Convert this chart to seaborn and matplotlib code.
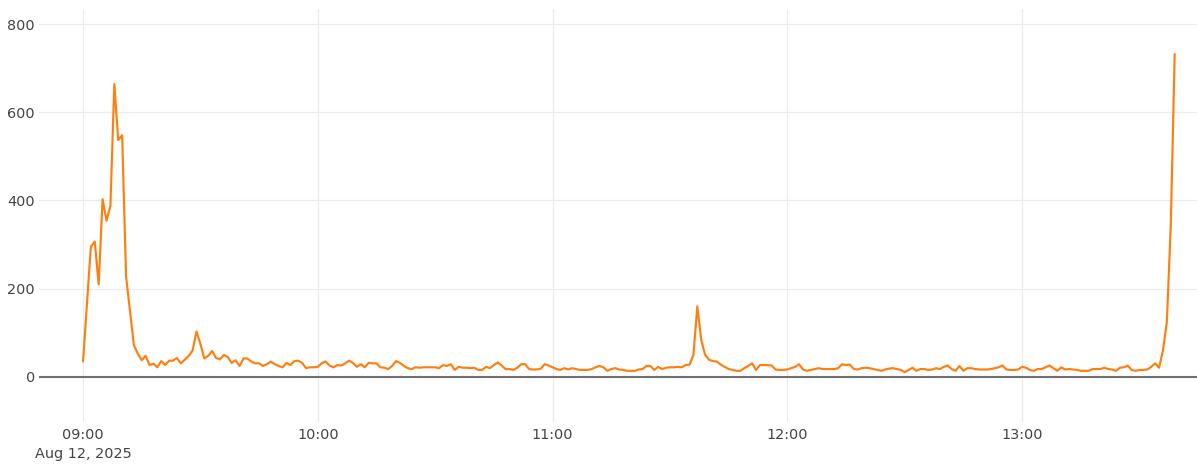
import pandas as pd
import matplotlib
matplotlib.use('Agg')
import matplotlib.pyplot as plt
import seaborn as sns

# one reading per minute, starting 09:00
start_time = '2025-08-12 09:00'
values = [
    35, 165, 295, 307, 210, 403, 354, 388, 664, 537, 548, 228, 150, 72, 53, 38, 48, 27, 30, 22,
    36, 27, 37, 37, 43, 31, 39, 48, 60, 103, 75, 42, 48, 59, 43, 40, 50, 45, 32, 38,
    25, 42, 42, 35, 31, 31, 25, 29, 35, 29, 25, 22, 32, 27, 36, 37, 32, 20, 22, 22,
    23, 31, 35, 26, 22, 27, 26, 31, 37, 32, 23, 29, 22, 32, 31, 31, 22, 21, 18, 25,
    36, 32, 25, 20, 18, 22, 21, 22, 22, 22, 22, 20, 27, 25, 29, 16, 23, 21, 21, 20,
    21, 16, 16, 23, 20, 27, 33, 26, 18, 18, 16, 21, 29, 29, 18, 17, 17, 19, 29, 26,
    22, 18, 16, 20, 17, 20, 18, 16, 16, 16, 18, 22, 25, 22, 14, 18, 20, 17, 16, 14,
    14, 14, 17, 18, 25, 25, 16, 23, 18, 21, 22, 22, 23, 22, 27, 28, 50, 160, 84, 50,
    39, 36, 35, 28, 23, 18, 16, 14, 14, 20, 25, 31, 16, 27, 27, 27, 26, 17, 16, 16,
    17, 20, 23, 29, 17, 14, 16, 18, 20, 18, 18, 18, 18, 20, 29, 27, 28, 18, 17, 20,
    21, 20, 18, 16, 14, 17, 19, 20, 18, 16, 11, 16, 21, 14, 18, 18, 16, 17, 20, 18,
    23, 26, 18, 14, 25, 14, 20, 20, 18, 17, 17, 17, 18, 20, 22, 26, 17, 16, 16, 17,
    23, 21, 16, 14, 18, 18, 22, 26, 20, 14, 22, 17, 18, 17, 16, 14, 14, 14, 18, 18,
    18, 21, 18, 17, 14, 21, 22, 26, 16, 14, 16, 16, 17, 23, 31, 21, 60, 125, 345, 732,
]
x_ticks = ['2025-08-12 09:00', '2025-08-12 10:00', '2025-08-12 11:00',
           '2025-08-12 12:00', '2025-08-12 13:00']
x_tick_labels = ['09:00\nAug 12, 2025', '10:00', '11:00', '12:00', '13:00']
y_ticks = [0, 200, 400, 600, 800]

df = pd.DataFrame({
    'time': pd.date_range(start_time, periods=len(values), freq='min'),
    'value': values,
})

sns.set_style('white')
plt.rcParams['font.family'] = ['DejaVu Sans']

fig = plt.figure(figsize=(11.97, 4.65), dpi=100)
ax = fig.add_axes([39 / 1197, 43 / 465, 1 - 39 / 1197, 413 / 465])

sns.lineplot(data=df, x='time', y='value', color='#ff7f0e', linewidth=1.55, ax=ax)

# grid and zero line
ax.set_axisbelow(True)
ax.grid(True, color='#ebebeb', linewidth=0.9)
ax.axhline(0, color='#707070', linewidth=1.5, zorder=1.5)
for s in ax.spines.values():
    s.set_visible(False)

ax.set_xlim(pd.Timestamp(start_time) - pd.Timedelta(minutes=11.25),
            pd.Timestamp(start_time) + pd.Timedelta(minutes=284.7))
ax.set_ylim(-102, 834)

ax.set_xticks(pd.to_datetime(x_ticks))
ax.set_xticklabels(x_tick_labels, linespacing=1.45, multialignment='center')
ax.set_yticks(y_ticks)
ax.set_yticklabels([str(v) for v in y_ticks])
ax.tick_params(axis='both', length=0, labelsize=10.4, colors='#444444')
ax.tick_params(axis='x', pad=4)
ax.tick_params(axis='y', pad=3)
ax.set_xlabel('')
ax.set_ylabel('')

fig.savefig('out.png', dpi=100)
